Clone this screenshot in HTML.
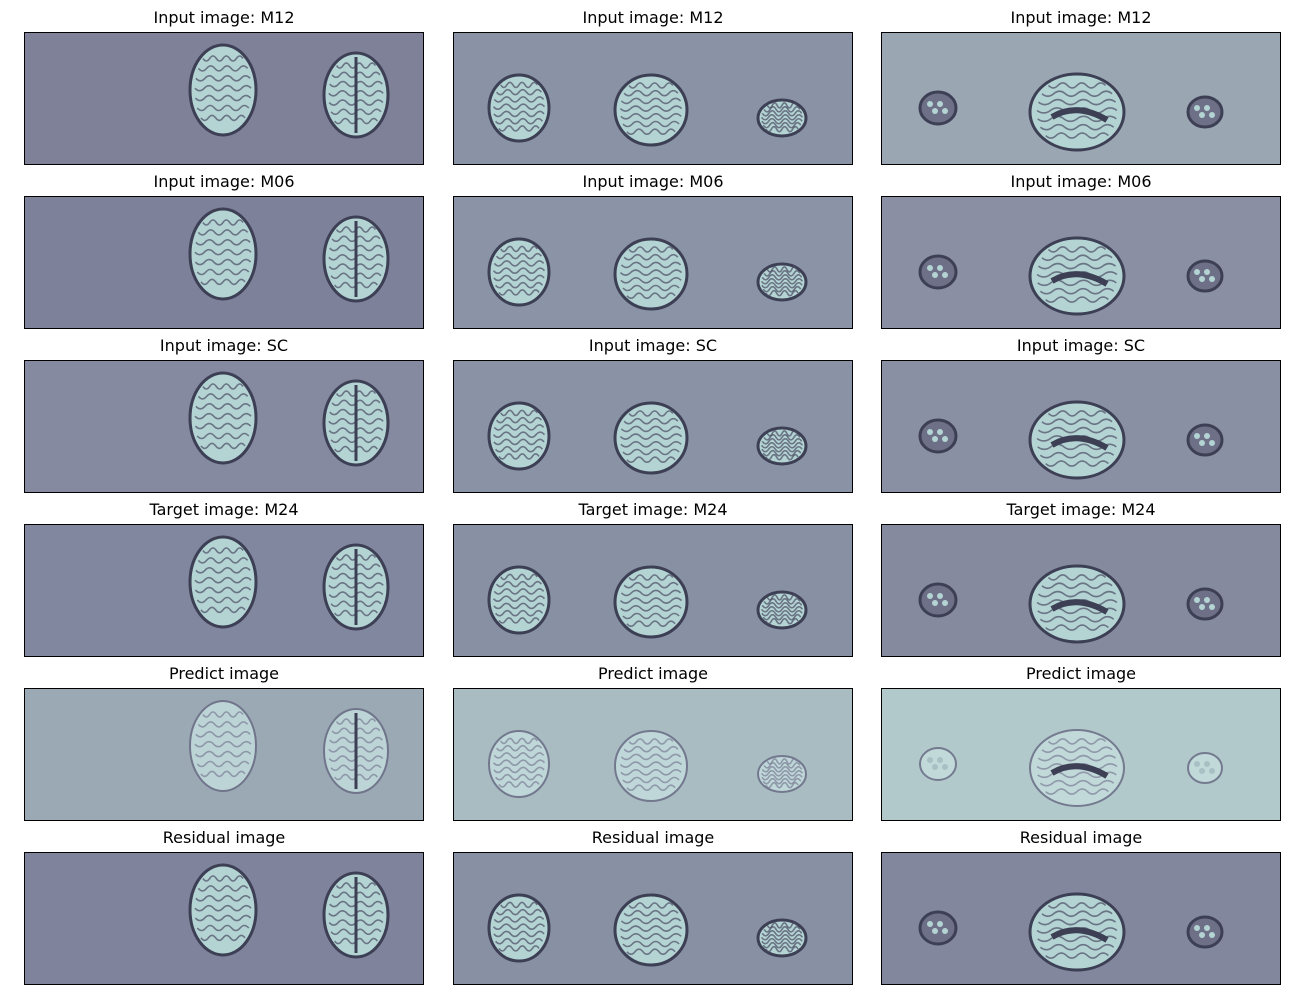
<!DOCTYPE html>
<html><head><meta charset="utf-8"><style>
body{margin:0;background:#fff;width:1300px;height:1000px;overflow:hidden;font-family:"DejaVu Sans","Liberation Sans",sans-serif}
</style></head><body>
<svg id="fig" width="1300" height="1000" xmlns="http://www.w3.org/2000/svg"></svg>
<script>
const titles=["Input image: M12","Input image: M06","Input image: SC","Target image: M24","Predict image","Residual image"];
const bgs=[["#7f8199","#8a92a5","#9aa6b2"],["#7d8199","#8a94a6","#8a8fa3"],["#858aa0","#8a93a6","#8a90a4"],["#80879e","#8890a4","#858a9f"],["#9aa9b4","#a8bcc2","#b2c9cb"],["#7f849c","#8890a4","#82879d"]];
const colX=[24,453,881];
const rowY=[32,196,360,524,688,852];
const shapes=[[[199,58,33,45],[332,63,32,42]],[[66,76,30,33],[198,78,36,35],[329,86,24,18]],[[57,76,18,16],[196,80,47,38],[324,80,17,15]]];
const svg=document.getElementById('fig');
const NS="http://www.w3.org/2000/svg";
function mk(t,a){const e=document.createElementNS(NS,t);for(const k in a)e.setAttribute(k,a[k]);return e;}
for(let r=0;r<6;r++)for(let c=0;c<3;c++){
  const x=colX[c],y=rowY[r];
  const g=mk('g',{});
  
  
  const t=mk('text',{x:x+200,y:y-9,'text-anchor':'middle','font-size':'16','font-family':'DejaVu Sans, Liberation Sans, sans-serif',fill:'#000'});
  t.textContent=titles[r];
  
  
  g.appendChild(t);
  g.appendChild(mk('rect',{x:x,y:y,width:400,height:133,fill:bgs[r][c]}));
  const pred=r===4;
  shapes[c].forEach((s,i)=>{
    const cx=x+s[0],cy=y+s[1];
    const small=(c===2&&i!==1);
    const fill=pred?"#c4dcdc":(small?"#6e7088":"#b4d4d4");
    const e=mk('ellipse',{cx:cx,cy:cy,rx:s[2],ry:s[3],fill:fill,stroke:pred?"#6a6d85":"#3d3f55",'stroke-width':pred?2:3,opacity:pred?0.85:1});
    
    
    g.appendChild(e);
    if(!small){
      for(let k=0;k<7;k++){
        const yy=cy-s[3]*0.7+k*s[3]*0.22;
        const w=s[2]*Math.sqrt(Math.max(0,1-Math.pow((yy-cy)/s[3],2)))*0.85;
        let d="M"+(cx-w)+","+yy;
        for(let j=1;j<=6;j++){d+=" Q"+(cx-w+(j-0.5)*w/3)+","+(yy+(j%2?5:-5))+" "+(cx-w+j*w/3)+","+yy;}
        g.appendChild(mk('path',{d:d,fill:'none',stroke:pred?"#7a7d95":"#4a4c62",'stroke-width':1.6,opacity:0.7}));
      }
      if(c===0&&i===1)g.appendChild(mk('line',{x1:cx,y1:cy-s[3]+4,x2:cx,y2:cy+s[3]-4,stroke:"#3d3f55",'stroke-width':3}));
      if(c===2&&i===1)g.appendChild(mk('path',{d:`M${cx-25},${cy+5} Q${cx},${cy-10} ${cx+30},${cy+8}`,fill:'none',stroke:'#3d3f55','stroke-width':6}));
    } else {
      for(let k=0;k<4;k++)g.appendChild(mk('circle',{cx:cx-8+k*5,cy:cy-4+(k%2)*7,r:3,fill:pred?"#a8c0c4":"#b4d4d4"}));
    }
  });
  g.appendChild(mk('rect',{x:x+0.5,y:y+0.5,width:399,height:132,fill:'none',stroke:'#000','stroke-width':1}));
  svg.appendChild(g);
}
</script>
</body></html>
